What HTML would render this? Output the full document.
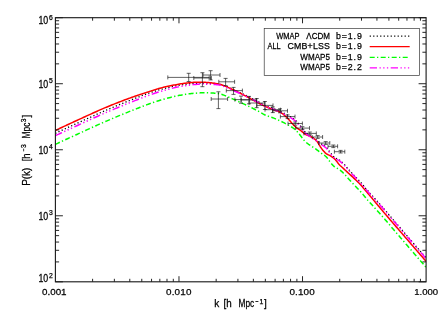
<!DOCTYPE html>
<html><head><meta charset="utf-8"><title>P(k)</title>
<style>html,body{margin:0;padding:0;background:#fff;}body{width:443px;height:317px;overflow:hidden;font-family:"Liberation Sans",sans-serif;}</style>
</head><body>
<svg width="443" height="317" viewBox="0 0 443 317" style="display:block">
<rect width="443" height="317" fill="#fff"/>
<clipPath id="c"><rect x="55.4" y="17.7" width="370.70000000000005" height="264.1"/></clipPath>
<g clip-path="url(#c)" fill="none" stroke-linejoin="round">
<path d="M55.30,133.30 L56.46,132.76 L57.62,132.22 L58.79,131.68 L59.95,131.15 L61.11,130.61 L62.27,130.07 L63.44,129.54 L64.60,129.00 L65.76,128.47 L66.92,127.93 L68.09,127.40 L69.25,126.86 L70.41,126.33 L71.57,125.80 L72.74,125.27 L73.90,124.73 L75.06,124.20 L76.22,123.67 L77.39,123.14 L78.55,122.61 L79.71,122.08 L80.87,121.56 L82.03,121.03 L83.20,120.50 L84.36,119.97 L85.52,119.43 L86.68,118.90 L87.85,118.37 L89.01,117.84 L90.17,117.31 L91.33,116.78 L92.50,116.26 L93.66,115.73 L94.82,115.21 L95.98,114.68 L97.15,114.16 L98.31,113.64 L99.47,113.13 L100.63,112.61 L101.80,112.10 L102.96,111.59 L104.12,111.09 L105.28,110.58 L106.44,110.08 L107.61,109.59 L108.77,109.09 L109.93,108.60 L111.09,108.10 L112.26,107.61 L113.42,107.13 L114.58,106.64 L115.74,106.15 L116.91,105.67 L118.07,105.19 L119.23,104.71 L120.39,104.23 L121.56,103.76 L122.72,103.28 L123.88,102.81 L125.04,102.34 L126.21,101.87 L127.37,101.41 L128.53,100.94 L129.69,100.48 L130.85,100.02 L132.02,99.56 L133.18,99.09 L134.34,98.63 L135.50,98.17 L136.67,97.71 L137.83,97.26 L138.99,96.80 L140.15,96.35 L141.32,95.90 L142.48,95.46 L143.64,95.02 L144.80,94.58 L145.97,94.15 L147.13,93.73 L148.29,93.31 L149.45,92.89 L150.62,92.50 L151.78,92.12 L152.94,91.74 L154.10,91.37 L155.26,91.01 L156.43,90.65 L157.59,90.31 L158.75,89.98 L159.91,89.66 L161.08,89.36 L162.24,89.05 L163.40,88.75 L164.56,88.44 L165.73,88.15 L166.89,87.85 L168.05,87.57 L169.21,87.29 L170.38,87.01 L171.54,86.75 L172.70,86.49 L173.86,86.24 L175.03,86.00 L176.19,85.78 L177.35,85.56 L178.51,85.36 L179.67,85.17 L180.84,84.99 L182.00,84.82 L183.16,84.64 L184.32,84.48 L185.49,84.31 L186.65,84.16 L187.81,84.01 L188.97,83.87 L190.14,83.75 L191.30,83.64 L192.46,83.54 L193.62,83.46 L194.79,83.39 L195.95,83.34 L197.11,83.28 L198.27,83.23 L199.44,83.19 L200.60,83.15 L201.76,83.12 L202.92,83.11 L204.08,83.12 L205.25,83.13 L206.41,83.16 L207.57,83.18 L208.73,83.22 L209.90,83.26 L211.06,83.30 L212.22,83.35 L213.38,83.42 L214.55,83.51 L215.71,83.63 L216.87,83.78 L218.03,83.94 L219.20,84.13 L220.36,84.34 L221.52,84.65 L222.68,85.06 L223.85,85.52 L225.01,85.99 L226.17,86.45 L227.33,86.94 L228.49,87.44 L229.66,87.97 L230.82,88.50 L231.98,89.03 L233.14,89.55 L234.31,90.07 L235.47,90.59 L236.63,91.11 L237.79,91.63 L238.96,92.16 L240.12,92.68 L241.28,93.22 L242.44,93.75 L243.61,94.30 L244.77,94.84 L245.93,95.40 L247.09,95.96 L248.26,96.53 L249.42,97.10 L250.58,97.68 L251.74,98.27 L252.91,98.85 L254.07,99.45 L255.23,100.05 L256.39,100.65 L257.55,101.26 L258.72,101.89 L259.88,102.56 L261.04,103.25 L262.20,103.94 L263.37,104.60 L264.53,105.22 L265.69,105.77 L266.85,106.24 L268.02,106.66 L269.18,107.03 L270.34,107.40 L271.50,107.77 L272.67,108.18 L273.83,108.63 L274.99,109.11 L276.15,109.60 L277.32,110.10 L278.48,110.62 L279.64,111.16 L280.80,111.71 L281.96,112.27 L283.13,112.85 L284.29,113.45 L285.45,114.06 L286.61,114.68 L287.78,115.30 L288.94,115.94 L290.10,116.59 L291.26,117.28 L292.43,118.02 L293.59,118.83 L294.75,119.72 L295.91,120.75 L297.08,122.01 L298.24,123.39 L299.40,124.81 L300.56,126.21 L301.73,127.74 L302.89,129.30 L304.05,130.78 L305.21,132.04 L306.37,133.09 L307.54,134.03 L308.70,134.89 L309.86,135.69 L311.02,136.47 L312.19,137.25 L313.35,138.03 L314.51,138.76 L315.67,139.51 L316.84,140.33 L318.00,141.21 L319.16,142.12 L320.32,143.02 L321.49,143.90 L322.65,144.69 L323.81,145.45 L324.97,146.28 L326.14,147.27 L327.30,148.61 L328.46,150.21 L329.62,151.81 L330.78,153.26 L331.95,154.70 L333.11,156.05 L334.27,157.17 L335.43,157.96 L336.60,158.56 L337.76,159.12 L338.92,159.79 L340.08,160.65 L341.25,161.62 L342.41,162.69 L343.57,163.82 L344.73,164.99 L345.90,166.28 L347.06,167.65 L348.22,169.02 L349.38,170.33 L350.55,171.61 L351.71,172.89 L352.87,174.15 L354.03,175.38 L355.19,176.59 L356.36,177.79 L357.52,178.99 L358.68,180.19 L359.84,181.43 L361.01,182.69 L362.17,184.01 L363.33,185.42 L364.49,186.90 L365.66,188.30 L366.82,189.66 L367.98,191.00 L369.14,192.31 L370.31,193.61 L371.47,194.89 L372.63,196.17 L373.79,197.44 L374.96,198.71 L376.12,199.98 L377.28,201.26 L378.44,202.55 L379.60,203.85 L380.77,205.18 L381.93,206.52 L383.09,207.86 L384.25,209.22 L385.42,210.58 L386.58,211.94 L387.74,213.31 L388.90,214.68 L390.07,216.05 L391.23,217.42 L392.39,218.78 L393.55,220.14 L394.72,221.50 L395.88,222.85 L397.04,224.21 L398.20,225.56 L399.37,226.92 L400.53,228.27 L401.69,229.63 L402.85,230.98 L404.01,232.33 L405.18,233.69 L406.34,235.04 L407.50,236.39 L408.66,237.74 L409.83,239.09 L410.99,240.44 L412.15,241.79 L413.31,243.14 L414.48,244.49 L415.64,245.84 L416.80,247.18 L417.96,248.53 L419.13,249.87 L420.29,251.21 L421.45,252.56 L422.61,253.89 L423.78,255.23 L424.94,256.57 L426.10,257.90" stroke="#000" stroke-width="1.3" stroke-dasharray="1.2 2.29"/>
<path d="M55.30,130.50 L56.46,129.95 L57.62,129.40 L58.79,128.85 L59.95,128.30 L61.11,127.75 L62.27,127.21 L63.44,126.66 L64.60,126.12 L65.76,125.58 L66.92,125.03 L68.09,124.49 L69.25,123.95 L70.41,123.41 L71.57,122.87 L72.74,122.34 L73.90,121.80 L75.06,121.26 L76.22,120.73 L77.39,120.20 L78.55,119.66 L79.71,119.13 L80.87,118.60 L82.03,118.07 L83.20,117.54 L84.36,117.00 L85.52,116.47 L86.68,115.94 L87.85,115.40 L89.01,114.87 L90.17,114.34 L91.33,113.81 L92.50,113.28 L93.66,112.76 L94.82,112.23 L95.98,111.71 L97.15,111.19 L98.31,110.68 L99.47,110.17 L100.63,109.66 L101.80,109.16 L102.96,108.66 L104.12,108.17 L105.28,107.68 L106.44,107.20 L107.61,106.72 L108.77,106.24 L109.93,105.76 L111.09,105.28 L112.26,104.81 L113.42,104.34 L114.58,103.88 L115.74,103.41 L116.91,102.95 L118.07,102.50 L119.23,102.04 L120.39,101.59 L121.56,101.14 L122.72,100.70 L123.88,100.26 L125.04,99.82 L126.21,99.39 L127.37,98.96 L128.53,98.53 L129.69,98.11 L130.85,97.69 L132.02,97.28 L133.18,96.87 L134.34,96.47 L135.50,96.07 L136.67,95.67 L137.83,95.28 L138.99,94.89 L140.15,94.50 L141.32,94.12 L142.48,93.73 L143.64,93.35 L144.80,92.97 L145.97,92.60 L147.13,92.22 L148.29,91.85 L149.45,91.48 L150.62,91.10 L151.78,90.72 L152.94,90.34 L154.10,89.96 L155.26,89.59 L156.43,89.23 L157.59,88.87 L158.75,88.54 L159.91,88.22 L161.08,87.92 L162.24,87.63 L163.40,87.35 L164.56,87.07 L165.73,86.80 L166.89,86.54 L168.05,86.29 L169.21,86.04 L170.38,85.80 L171.54,85.56 L172.70,85.33 L173.86,85.11 L175.03,84.90 L176.19,84.68 L177.35,84.47 L178.51,84.26 L179.67,84.06 L180.84,83.86 L182.00,83.67 L183.16,83.49 L184.32,83.33 L185.49,83.17 L186.65,83.04 L187.81,82.91 L188.97,82.78 L190.14,82.66 L191.30,82.54 L192.46,82.43 L193.62,82.33 L194.79,82.26 L195.95,82.21 L197.11,82.20 L198.27,82.20 L199.44,82.21 L200.60,82.23 L201.76,82.25 L202.92,82.28 L204.08,82.31 L205.25,82.34 L206.41,82.38 L207.57,82.43 L208.73,82.51 L209.90,82.64 L211.06,82.79 L212.22,82.96 L213.38,83.14 L214.55,83.33 L215.71,83.51 L216.87,83.72 L218.03,83.95 L219.20,84.20 L220.36,84.49 L221.52,84.83 L222.68,85.22 L223.85,85.64 L225.01,86.10 L226.17,86.59 L227.33,87.10 L228.49,87.62 L229.66,88.16 L230.82,88.69 L231.98,89.22 L233.14,89.75 L234.31,90.28 L235.47,90.83 L236.63,91.40 L237.79,91.97 L238.96,92.56 L240.12,93.15 L241.28,93.75 L242.44,94.36 L243.61,94.97 L244.77,95.57 L245.93,96.19 L247.09,96.81 L248.26,97.45 L249.42,98.10 L250.58,98.75 L251.74,99.40 L252.91,100.05 L254.07,100.70 L255.23,101.34 L256.39,101.96 L257.55,102.57 L258.72,103.17 L259.88,103.76 L261.04,104.35 L262.20,104.93 L263.37,105.49 L264.53,106.04 L265.69,106.56 L266.85,107.07 L268.02,107.56 L269.18,108.04 L270.34,108.50 L271.50,108.96 L272.67,109.41 L273.83,109.85 L274.99,110.30 L276.15,110.71 L277.32,111.09 L278.48,111.49 L279.64,111.95 L280.80,112.51 L281.96,113.26 L283.13,114.16 L284.29,115.17 L285.45,116.23 L286.61,117.31 L287.78,118.46 L288.94,119.74 L290.10,121.09 L291.26,122.45 L292.43,123.79 L293.59,125.03 L294.75,126.15 L295.91,127.12 L297.08,128.02 L298.24,128.86 L299.40,129.67 L300.56,130.50 L301.73,131.36 L302.89,132.29 L304.05,133.41 L305.21,134.33 L306.37,134.92 L307.54,135.39 L308.70,135.80 L309.86,136.23 L311.02,136.75 L312.19,137.41 L313.35,138.16 L314.51,139.01 L315.67,140.00 L316.84,141.18 L318.00,142.82 L319.16,144.76 L320.32,146.72 L321.49,148.41 L322.65,149.92 L323.81,151.34 L324.97,152.58 L326.14,153.55 L327.30,154.27 L328.46,154.87 L329.62,155.43 L330.78,156.05 L331.95,156.81 L333.11,157.66 L334.27,158.63 L335.43,159.74 L336.60,161.17 L337.76,162.80 L338.92,164.30 L340.08,165.48 L341.25,166.52 L342.41,167.54 L343.57,168.62 L344.73,169.72 L345.90,170.82 L347.06,171.90 L348.22,172.97 L349.38,174.03 L350.55,175.10 L351.71,176.17 L352.87,177.25 L354.03,178.33 L355.19,179.41 L356.36,180.49 L357.52,181.59 L358.68,182.73 L359.84,183.92 L361.01,185.19 L362.17,186.54 L363.33,187.94 L364.49,189.36 L365.66,190.74 L366.82,192.11 L367.98,193.49 L369.14,194.86 L370.31,196.24 L371.47,197.62 L372.63,199.00 L373.79,200.38 L374.96,201.77 L376.12,203.16 L377.28,204.55 L378.44,205.94 L379.60,207.33 L380.77,208.72 L381.93,210.10 L383.09,211.49 L384.25,212.87 L385.42,214.25 L386.58,215.61 L387.74,216.98 L388.90,218.33 L390.07,219.68 L391.23,221.03 L392.39,222.37 L393.55,223.72 L394.72,225.06 L395.88,226.40 L397.04,227.74 L398.20,229.08 L399.37,230.42 L400.53,231.77 L401.69,233.12 L402.85,234.46 L404.01,235.81 L405.18,237.16 L406.34,238.50 L407.50,239.85 L408.66,241.20 L409.83,242.54 L410.99,243.89 L412.15,245.24 L413.31,246.59 L414.48,247.93 L415.64,249.28 L416.80,250.63 L417.96,251.97 L419.13,253.32 L420.29,254.67 L421.45,256.01 L422.61,257.36 L423.78,258.71 L424.94,260.05 L426.10,261.40" stroke="#ff0000" stroke-width="1.5"/>
<path d="M55.30,144.40 L56.46,143.86 L57.62,143.32 L58.79,142.78 L59.95,142.24 L61.11,141.70 L62.27,141.16 L63.44,140.62 L64.60,140.08 L65.76,139.54 L66.92,139.01 L68.09,138.47 L69.25,137.93 L70.41,137.40 L71.57,136.86 L72.74,136.33 L73.90,135.79 L75.06,135.26 L76.22,134.73 L77.39,134.20 L78.55,133.66 L79.71,133.13 L80.87,132.60 L82.03,132.07 L83.20,131.54 L84.36,131.00 L85.52,130.47 L86.68,129.94 L87.85,129.40 L89.01,128.87 L90.17,128.34 L91.33,127.81 L92.50,127.28 L93.66,126.75 L94.82,126.22 L95.98,125.70 L97.15,125.17 L98.31,124.65 L99.47,124.13 L100.63,123.62 L101.80,123.10 L102.96,122.59 L104.12,122.08 L105.28,121.58 L106.44,121.08 L107.61,120.58 L108.77,120.08 L109.93,119.58 L111.09,119.09 L112.26,118.59 L113.42,118.10 L114.58,117.61 L115.74,117.13 L116.91,116.64 L118.07,116.16 L119.23,115.68 L120.39,115.20 L121.56,114.72 L122.72,114.24 L123.88,113.77 L125.04,113.30 L126.21,112.82 L127.37,112.36 L128.53,111.89 L129.69,111.42 L130.85,110.96 L132.02,110.49 L133.18,110.03 L134.34,109.57 L135.50,109.10 L136.67,108.64 L137.83,108.18 L138.99,107.73 L140.15,107.27 L141.32,106.82 L142.48,106.37 L143.64,105.93 L144.80,105.49 L145.97,105.06 L147.13,104.63 L148.29,104.21 L149.45,103.79 L150.62,103.38 L151.78,102.98 L152.94,102.57 L154.10,102.17 L155.26,101.78 L156.43,101.40 L157.59,101.03 L158.75,100.67 L159.91,100.32 L161.08,99.99 L162.24,99.66 L163.40,99.32 L164.56,98.99 L165.73,98.67 L166.89,98.35 L168.05,98.03 L169.21,97.73 L170.38,97.42 L171.54,97.13 L172.70,96.84 L173.86,96.57 L175.03,96.30 L176.19,96.05 L177.35,95.81 L178.51,95.57 L179.67,95.36 L180.84,95.15 L182.00,94.95 L183.16,94.75 L184.32,94.55 L185.49,94.36 L186.65,94.18 L187.81,94.00 L188.97,93.84 L190.14,93.69 L191.30,93.55 L192.46,93.42 L193.62,93.31 L194.79,93.22 L195.95,93.13 L197.11,93.05 L198.27,92.97 L199.44,92.91 L200.60,92.85 L201.76,92.81 L202.92,92.80 L204.08,92.80 L205.25,92.82 L206.41,92.83 L207.57,92.86 L208.73,92.89 L209.90,92.93 L211.06,92.97 L212.22,93.01 L213.38,93.07 L214.55,93.16 L215.71,93.28 L216.87,93.42 L218.03,93.58 L219.20,93.76 L220.36,93.97 L221.52,94.28 L222.68,94.68 L223.85,95.14 L225.01,95.61 L226.17,96.06 L227.33,96.54 L228.49,97.05 L229.66,97.57 L230.82,98.10 L231.98,98.62 L233.14,99.14 L234.31,99.66 L235.47,100.17 L236.63,100.69 L237.79,101.21 L238.96,101.73 L240.12,102.25 L241.28,102.78 L242.44,103.31 L243.61,103.85 L244.77,104.40 L245.93,104.95 L247.09,105.51 L248.26,106.07 L249.42,106.64 L250.58,107.21 L251.74,107.79 L252.91,108.38 L254.07,108.97 L255.23,109.56 L256.39,110.16 L257.55,110.77 L258.72,111.40 L259.88,112.06 L261.04,112.75 L262.20,113.44 L263.37,114.10 L264.53,114.72 L265.69,115.27 L266.85,115.74 L268.02,116.15 L269.18,116.53 L270.34,116.89 L271.50,117.26 L272.67,117.67 L273.83,118.13 L274.99,118.60 L276.15,119.09 L277.32,119.59 L278.48,120.11 L279.64,120.64 L280.80,121.19 L281.96,121.76 L283.13,122.34 L284.29,122.93 L285.45,123.54 L286.61,124.16 L287.78,124.79 L288.94,125.42 L290.10,126.07 L291.26,126.76 L292.43,127.50 L293.59,128.31 L294.75,129.20 L295.91,130.23 L297.08,131.48 L298.24,132.86 L299.40,134.28 L300.56,135.69 L301.73,137.21 L302.89,138.77 L304.05,140.25 L305.21,141.52 L306.37,142.56 L307.54,143.50 L308.70,144.36 L309.86,145.16 L311.02,145.94 L312.19,146.72 L313.35,147.50 L314.51,148.23 L315.67,148.98 L316.84,149.80 L318.00,150.68 L319.16,151.58 L320.32,152.49 L321.49,153.36 L322.65,154.16 L323.81,154.92 L324.97,155.74 L326.14,156.73 L327.30,158.07 L328.46,159.66 L329.62,161.27 L330.78,162.71 L331.95,164.16 L333.11,165.51 L334.27,166.62 L335.43,167.41 L336.60,168.01 L337.76,168.58 L338.92,169.25 L340.08,170.10 L341.25,171.07 L342.41,172.14 L343.57,173.27 L344.73,174.44 L345.90,175.72 L347.06,177.10 L348.22,178.47 L349.38,179.77 L350.55,181.06 L351.71,182.33 L352.87,183.59 L354.03,184.83 L355.19,186.03 L356.36,187.23 L357.52,188.43 L358.68,189.64 L359.84,190.87 L361.01,192.13 L362.17,193.45 L363.33,194.86 L364.49,196.33 L365.66,197.74 L366.82,199.10 L367.98,200.43 L369.14,201.75 L370.31,203.04 L371.47,204.33 L372.63,205.60 L373.79,206.87 L374.96,208.14 L376.12,209.41 L377.28,210.69 L378.44,211.98 L379.60,213.28 L380.77,214.61 L381.93,215.94 L383.09,217.29 L384.25,218.64 L385.42,220.00 L386.58,221.36 L387.74,222.73 L388.90,224.10 L390.07,225.47 L391.23,226.84 L392.39,228.20 L393.55,229.56 L394.72,230.92 L395.88,232.27 L397.04,233.63 L398.20,234.98 L399.37,236.34 L400.53,237.69 L401.69,239.04 L402.85,240.40 L404.01,241.75 L405.18,243.10 L406.34,244.45 L407.50,245.80 L408.66,247.15 L409.83,248.50 L410.99,249.85 L412.15,251.20 L413.31,252.55 L414.48,253.90 L415.64,255.24 L416.80,256.59 L417.96,257.93 L419.13,259.27 L420.29,260.62 L421.45,261.96 L422.61,263.30 L423.78,264.63 L424.94,265.97 L426.10,267.30" stroke="#00ff00" stroke-width="1.5" stroke-dasharray="5.0 2.3 1.3 2.4"/>
<path d="M55.30,135.70 L56.46,135.16 L57.62,134.62 L58.79,134.08 L59.95,133.54 L61.11,133.00 L62.27,132.46 L63.44,131.92 L64.60,131.38 L65.76,130.84 L66.92,130.31 L68.09,129.77 L69.25,129.23 L70.41,128.70 L71.57,128.16 L72.74,127.63 L73.90,127.09 L75.06,126.56 L76.22,126.03 L77.39,125.50 L78.55,124.96 L79.71,124.43 L80.87,123.90 L82.03,123.37 L83.20,122.84 L84.36,122.30 L85.52,121.77 L86.68,121.24 L87.85,120.70 L89.01,120.17 L90.17,119.64 L91.33,119.11 L92.50,118.58 L93.66,118.05 L94.82,117.52 L95.98,117.00 L97.15,116.47 L98.31,115.95 L99.47,115.43 L100.63,114.92 L101.80,114.40 L102.96,113.89 L104.12,113.38 L105.28,112.88 L106.44,112.38 L107.61,111.88 L108.77,111.38 L109.93,110.88 L111.09,110.39 L112.26,109.89 L113.42,109.40 L114.58,108.91 L115.74,108.43 L116.91,107.94 L118.07,107.46 L119.23,106.98 L120.39,106.50 L121.56,106.02 L122.72,105.54 L123.88,105.07 L125.04,104.60 L126.21,104.12 L127.37,103.66 L128.53,103.19 L129.69,102.72 L130.85,102.26 L132.02,101.79 L133.18,101.33 L134.34,100.87 L135.50,100.40 L136.67,99.94 L137.83,99.48 L138.99,99.03 L140.15,98.57 L141.32,98.12 L142.48,97.67 L143.64,97.23 L144.80,96.79 L145.97,96.36 L147.13,95.93 L148.29,95.51 L149.45,95.09 L150.62,94.68 L151.78,94.28 L152.94,93.87 L154.10,93.47 L155.26,93.08 L156.43,92.70 L157.59,92.33 L158.75,91.97 L159.91,91.62 L161.08,91.29 L162.24,90.96 L163.40,90.62 L164.56,90.29 L165.73,89.97 L166.89,89.65 L168.05,89.33 L169.21,89.03 L170.38,88.72 L171.54,88.43 L172.70,88.14 L173.86,87.87 L175.03,87.60 L176.19,87.35 L177.35,87.11 L178.51,86.87 L179.67,86.66 L180.84,86.45 L182.00,86.25 L183.16,86.05 L184.32,85.85 L185.49,85.66 L186.65,85.48 L187.81,85.30 L188.97,85.14 L190.14,84.99 L191.30,84.85 L192.46,84.72 L193.62,84.61 L194.79,84.52 L195.95,84.43 L197.11,84.35 L198.27,84.27 L199.44,84.21 L200.60,84.15 L201.76,84.11 L202.92,84.10 L204.08,84.10 L205.25,84.12 L206.41,84.13 L207.57,84.16 L208.73,84.19 L209.90,84.23 L211.06,84.27 L212.22,84.31 L213.38,84.37 L214.55,84.46 L215.71,84.58 L216.87,84.72 L218.03,84.88 L219.20,85.06 L220.36,85.27 L221.52,85.58 L222.68,85.98 L223.85,86.44 L225.01,86.91 L226.17,87.36 L227.33,87.84 L228.49,88.35 L229.66,88.87 L230.82,89.40 L231.98,89.92 L233.14,90.44 L234.31,90.96 L235.47,91.47 L236.63,91.99 L237.79,92.51 L238.96,93.03 L240.12,93.55 L241.28,94.08 L242.44,94.61 L243.61,95.15 L244.77,95.70 L245.93,96.25 L247.09,96.81 L248.26,97.37 L249.42,97.94 L250.58,98.51 L251.74,99.09 L252.91,99.68 L254.07,100.27 L255.23,100.86 L256.39,101.46 L257.55,102.07 L258.72,102.70 L259.88,103.36 L261.04,104.05 L262.20,104.74 L263.37,105.40 L264.53,106.02 L265.69,106.57 L266.85,107.04 L268.02,107.45 L269.18,107.83 L270.34,108.19 L271.50,108.56 L272.67,108.97 L273.83,109.43 L274.99,109.90 L276.15,110.39 L277.32,110.89 L278.48,111.41 L279.64,111.94 L280.80,112.49 L281.96,113.06 L283.13,113.64 L284.29,114.23 L285.45,114.84 L286.61,115.46 L287.78,116.09 L288.94,116.72 L290.10,117.37 L291.26,118.06 L292.43,118.80 L293.59,119.61 L294.75,120.50 L295.91,121.53 L297.08,122.78 L298.24,124.16 L299.40,125.58 L300.56,126.99 L301.73,128.51 L302.89,130.07 L304.05,131.55 L305.21,132.82 L306.37,133.86 L307.54,134.80 L308.70,135.66 L309.86,136.46 L311.02,137.24 L312.19,138.02 L313.35,138.80 L314.51,139.53 L315.67,140.28 L316.84,141.10 L318.00,141.98 L319.16,142.88 L320.32,143.79 L321.49,144.66 L322.65,145.46 L323.81,146.22 L324.97,147.04 L326.14,148.03 L327.30,149.37 L328.46,150.96 L329.62,152.57 L330.78,154.01 L331.95,155.46 L333.11,156.81 L334.27,157.92 L335.43,158.71 L336.60,159.31 L337.76,159.88 L338.92,160.55 L340.08,161.40 L341.25,162.37 L342.41,163.44 L343.57,164.57 L344.73,165.74 L345.90,167.02 L347.06,168.40 L348.22,169.77 L349.38,171.07 L350.55,172.36 L351.71,173.63 L352.87,174.89 L354.03,176.13 L355.19,177.33 L356.36,178.53 L357.52,179.73 L358.68,180.94 L359.84,182.17 L361.01,183.43 L362.17,184.75 L363.33,186.16 L364.49,187.63 L365.66,189.04 L366.82,190.40 L367.98,191.73 L369.14,193.05 L370.31,194.34 L371.47,195.63 L372.63,196.90 L373.79,198.17 L374.96,199.44 L376.12,200.71 L377.28,201.99 L378.44,203.28 L379.60,204.58 L380.77,205.91 L381.93,207.24 L383.09,208.59 L384.25,209.94 L385.42,211.30 L386.58,212.66 L387.74,214.03 L388.90,215.40 L390.07,216.77 L391.23,218.14 L392.39,219.50 L393.55,220.86 L394.72,222.22 L395.88,223.57 L397.04,224.93 L398.20,226.28 L399.37,227.64 L400.53,228.99 L401.69,230.34 L402.85,231.70 L404.01,233.05 L405.18,234.40 L406.34,235.75 L407.50,237.10 L408.66,238.45 L409.83,239.80 L410.99,241.15 L412.15,242.50 L413.31,243.85 L414.48,245.20 L415.64,246.54 L416.80,247.89 L417.96,249.23 L419.13,250.57 L420.29,251.92 L421.45,253.26 L422.61,254.60 L423.78,255.93 L424.94,257.27 L426.10,258.60" stroke="#ff00ff" stroke-width="1.5" stroke-dasharray="7.3 2.5 1.3 2.4 1.3 2.4 1.3 2.5"/>
</g>
<path d="M167.8,77.4H209.2M167.8,75.4V79.4M209.2,75.4V79.4M188.7,73.3V81.5M186.7,73.3H190.7M186.7,81.5H190.7M193.8,78.0H211.3M193.8,76.0V80.0M211.3,76.0V80.0M202.4,72.7V86.7M200.4,72.7H204.4M200.4,86.7H204.4M203.0,75.0H220.0M203.0,73.0V77.0M220.0,73.0V77.0M210.6,70.7V79.9M208.6,70.7H212.6M208.6,79.9H212.6M218.8,81.8H234.6M218.8,79.8V83.8M234.6,79.8V83.8M225.6,78.4V85.6M223.6,78.4H227.6M223.6,85.6H227.6M211.2,99.0H227.6M211.2,97.0V101.0M227.6,97.0V101.0M218.4,91.8V108.6M216.4,91.8H220.4M216.4,108.6H220.4M226.3,90.6H242.4M226.3,88.6V92.6M242.4,88.6V92.6M233.5,87.4V94.4M231.5,87.4H235.5M231.5,94.4H235.5M234.9,99.6H249.6M234.9,97.6V101.6M249.6,97.6V101.6M241.0,96.1V103.2M239.0,96.1H243.0M239.0,103.2H243.0M241.2,100.0H256.6M241.2,98.0V102.0M256.6,98.0V102.0M249.0,96.4V103.8M247.0,96.4H251.0M247.0,103.8H251.0M249.1,103.0H264.8M249.1,101.0V105.0M264.8,101.0V105.0M256.7,98.5V107.7M254.7,98.5H258.7M254.7,107.7H258.7M256.8,105.4H273.0M256.8,103.4V107.4M273.0,103.4V107.4M264.9,101.5V109.5M262.9,101.5H266.9M262.9,109.5H266.9M265.0,109.7H280.4M265.0,107.7V111.7M280.4,107.7V111.7M272.8,106.9V112.6M270.8,106.9H274.8M270.8,112.6H274.8M272.6,110.8H287.5M272.6,108.8V112.8M287.5,108.8V112.8M280.0,108.8V112.8M278.0,108.8H282.0M278.0,112.8H282.0M280.4,116.6H295.0M280.4,114.6V118.6M295.0,114.6V118.6M287.6,114.9V118.6M285.6,114.9H289.6M285.6,118.6H289.6M288.0,123.5H302.4M288.0,121.5V125.5M302.4,121.5V125.5M295.2,122.0V125.2M293.2,122.0H297.2M293.2,125.2H297.2M295.7,128.1H309.5M295.7,126.1V130.1M309.5,126.1V130.1M302.4,126.7V129.6M300.4,126.7H304.4M300.4,129.6H304.4M303.9,133.4H316.3M303.9,131.4V135.4M316.3,131.4V135.4M309.8,132.0V134.8M307.8,132.0H311.8M307.8,134.8H311.8M312.2,137.0H322.6M312.2,135.0V139.0M322.6,135.0V139.0M317.7,135.6V138.4M315.7,135.6H319.7M315.7,138.4H319.7M318.7,143.0H329.8M318.7,141.0V145.0M329.8,141.0V145.0M325.7,141.6V144.4M323.7,141.6H327.7M323.7,144.4H327.7M328.0,146.3H337.6M328.0,144.3V148.3M337.6,144.3V148.3M333.3,145.0V147.6M331.3,145.0H335.3M331.3,147.6H335.3M334.4,151.7H344.8M334.4,149.7V153.7M344.8,149.7V153.7M340.6,150.4V153.0M338.6,150.4H342.6M338.6,153.0H342.6" stroke="#111" stroke-width="0.65" fill="none"/>
<rect x="55.4" y="17.7" width="370.7" height="264.1" fill="none" stroke="#1a1a1a" stroke-width="1.12"/>
<path d="M92.60,281.8v-3.0M92.60,17.7v3.0M114.36,281.8v-3.0M114.36,17.7v3.0M129.79,281.8v-3.0M129.79,17.7v3.0M141.77,281.8v-3.0M141.77,17.7v3.0M151.55,281.8v-3.0M151.55,17.7v3.0M159.83,281.8v-3.0M159.83,17.7v3.0M166.99,281.8v-3.0M166.99,17.7v3.0M173.31,281.8v-3.0M173.31,17.7v3.0M178.97,281.8v-5.6M178.97,17.7v5.6M216.16,281.8v-3.0M216.16,17.7v3.0M237.92,281.8v-3.0M237.92,17.7v3.0M253.36,281.8v-3.0M253.36,17.7v3.0M265.34,281.8v-3.0M265.34,17.7v3.0M275.12,281.8v-3.0M275.12,17.7v3.0M283.39,281.8v-3.0M283.39,17.7v3.0M290.56,281.8v-3.0M290.56,17.7v3.0M296.88,281.8v-3.0M296.88,17.7v3.0M302.53,281.8v-5.6M302.53,17.7v5.6M339.73,281.8v-3.0M339.73,17.7v3.0M361.49,281.8v-3.0M361.49,17.7v3.0M376.93,281.8v-3.0M376.93,17.7v3.0M388.90,281.8v-3.0M388.90,17.7v3.0M398.69,281.8v-3.0M398.69,17.7v3.0M406.96,281.8v-3.0M406.96,17.7v3.0M414.13,281.8v-3.0M414.13,17.7v3.0M420.45,281.8v-3.0M420.45,17.7v3.0M55.4,281.80h7.5M426.1,281.80h-7.5M55.4,261.92h3.7M426.1,261.92h-3.7M55.4,250.30h3.7M426.1,250.30h-3.7M55.4,242.05h3.7M426.1,242.05h-3.7M55.4,235.65h3.7M426.1,235.65h-3.7M55.4,230.42h3.7M426.1,230.42h-3.7M55.4,226.00h3.7M426.1,226.00h-3.7M55.4,222.17h3.7M426.1,222.17h-3.7M55.4,218.80h3.7M426.1,218.80h-3.7M55.4,215.78h7.5M426.1,215.78h-7.5M55.4,195.90h3.7M426.1,195.90h-3.7M55.4,184.27h3.7M426.1,184.27h-3.7M55.4,176.02h3.7M426.1,176.02h-3.7M55.4,169.63h3.7M426.1,169.63h-3.7M55.4,164.40h3.7M426.1,164.40h-3.7M55.4,159.98h3.7M426.1,159.98h-3.7M55.4,156.15h3.7M426.1,156.15h-3.7M55.4,152.77h3.7M426.1,152.77h-3.7M55.4,149.75h7.5M426.1,149.75h-7.5M55.4,129.87h3.7M426.1,129.87h-3.7M55.4,118.25h3.7M426.1,118.25h-3.7M55.4,110.00h3.7M426.1,110.00h-3.7M55.4,103.60h3.7M426.1,103.60h-3.7M55.4,98.37h3.7M426.1,98.37h-3.7M55.4,93.95h3.7M426.1,93.95h-3.7M55.4,90.12h3.7M426.1,90.12h-3.7M55.4,86.75h3.7M426.1,86.75h-3.7M55.4,83.72h7.5M426.1,83.72h-7.5M55.4,63.85h3.7M426.1,63.85h-3.7M55.4,52.22h3.7M426.1,52.22h-3.7M55.4,43.97h3.7M426.1,43.97h-3.7M55.4,37.58h3.7M426.1,37.58h-3.7M55.4,32.35h3.7M426.1,32.35h-3.7M55.4,27.93h3.7M426.1,27.93h-3.7M55.4,24.10h3.7M426.1,24.10h-3.7M55.4,20.72h3.7M426.1,20.72h-3.7M55.4,17.70h7.5M426.1,17.70h-7.5" stroke="#1a1a1a" stroke-width="0.95" fill="none"/>
<g font-family="Liberation Sans, sans-serif" fill="#000" stroke="#000" stroke-width="0.25" style="font-kerning:none;filter:grayscale(1)">
<text transform="translate(42.00,295.30) scale(0.9930,1)" x="-0.00" y="0" font-size="9.9">0.001</text>
<text x="166.00" y="295.30" font-size="9.9" letter-spacing="0.182">0.010</text>
<text x="289.40" y="295.30" font-size="9.9" letter-spacing="0.132">0.100</text>
<text transform="translate(414.30,295.30) scale(0.9648,1)" x="-0.00" y="0" font-size="9.9">1.000</text>
<text transform="translate(38.40,24.20) scale(0.8812,1)" x="-0.00" y="0" font-size="10">10</text>
<text x="49.10" y="20.10" font-size="6.8" letter-spacing="0.000">6</text>
<text transform="translate(38.40,87.50) scale(0.8812,1)" x="-0.00" y="0" font-size="10">10</text>
<text x="49.10" y="83.40" font-size="6.8" letter-spacing="0.000">5</text>
<text transform="translate(38.40,153.50) scale(0.8812,1)" x="-0.00" y="0" font-size="10">10</text>
<text x="49.10" y="149.40" font-size="6.8" letter-spacing="0.000">4</text>
<text transform="translate(38.40,219.50) scale(0.8812,1)" x="-0.00" y="0" font-size="10">10</text>
<text x="49.10" y="215.40" font-size="6.8" letter-spacing="0.000">3</text>
<text transform="translate(38.40,282.10) scale(0.8812,1)" x="-0.00" y="0" font-size="10">10</text>
<text x="49.10" y="278.00" font-size="6.8" letter-spacing="0.000">2</text>
<text x="214.30" y="306.70" font-size="10" letter-spacing="0.000">k</text>
<text transform="translate(223.60,306.70) scale(0.9834,1)" x="-0.00" y="0" font-size="10">[h</text>
<text transform="translate(238.50,306.70) scale(0.8311,1)" x="-0.00" y="0" font-size="10">Mpc</text>
<text transform="translate(255.60,304.10) scale(0.8058,1)" x="-0.00" y="0" font-size="6.8">−</text>
<text x="259.50" y="304.10" font-size="6.8" letter-spacing="0.000">1</text>
<text x="263.90" y="306.70" font-size="10" letter-spacing="0.000">]</text>
<g transform="translate(29.8,185.8) rotate(-90)">
<text transform="translate(0.00,0.00) scale(0.9874,1)" x="-0.00" y="0" font-size="10">P(k)</text>
<text transform="translate(24.50,0.00) scale(0.9594,1)" x="-0.00" y="0" font-size="10">[h</text>
<text transform="translate(34.60,-4.00) scale(0.7051,1)" x="-0.00" y="0" font-size="6.8">−</text>
<text x="37.90" y="-4.00" font-size="6.8" letter-spacing="0.000">3</text>
<text transform="translate(47.40,0.00) scale(0.8363,1)" x="-0.00" y="0" font-size="10">Mpc</text>
<text x="63.60" y="-4.00" font-size="6.8" letter-spacing="0.000">3</text>
<text x="68.20" y="0.00" font-size="10" letter-spacing="0.000">]</text>
</g>
</g>
<rect x="264.2" y="28.6" width="155.3" height="46.9" fill="#fff" stroke="#2a2a2a" stroke-width="0.65"/>
<g font-family="Liberation Sans, sans-serif" fill="#000" stroke="#000" stroke-width="0.25" style="font-kerning:none;filter:grayscale(1)">
<text transform="translate(276.30,38.70) scale(0.8511,1)" x="-0.00" y="0" font-size="8.8">WMAP</text>
<text transform="translate(306.30,38.70) scale(0.9144,1)" x="-0.00" y="0" font-size="8.8">ΛCDM</text>
<text transform="translate(267.50,49.30) scale(0.8367,1)" x="-0.00" y="0" font-size="8.8">ALL</text>
<text x="287.40" y="49.30" font-size="8.8" letter-spacing="0.212">CMB+LSS</text>
<text transform="translate(300.30,59.90) scale(0.9204,1)" x="-0.00" y="0" font-size="8.8">WMAP5</text>
<text transform="translate(300.30,70.40) scale(0.9204,1)" x="-0.00" y="0" font-size="8.8">WMAP5</text>
<text x="335.90" y="38.70" font-size="8.8" letter-spacing="0.934">b=1.9</text>
<text x="335.90" y="49.30" font-size="8.8" letter-spacing="0.934">b=1.9</text>
<text x="335.90" y="59.90" font-size="8.8" letter-spacing="0.934">b=1.9</text>
<text x="335.90" y="70.40" font-size="8.8" letter-spacing="0.934">b=2.2</text>
</g>
<g fill="none" stroke-width="1.2">
<path d="M369.7,36.1H409.7" stroke="#000" stroke-dasharray="1.2 2.29"/>
<path d="M369.7,46.7H409.7" stroke="#ff0000"/>
<path d="M369.7,57.3H409.7" stroke="#00ff00" stroke-dasharray="5.0 2.3 1.3 2.4"/>
<path d="M369.7,67.8H409.7" stroke="#ff00ff" stroke-dasharray="7.3 2.5 1.3 2.4 1.3 2.4 1.3 2.5"/>
</g>
</svg>
</body></html>
